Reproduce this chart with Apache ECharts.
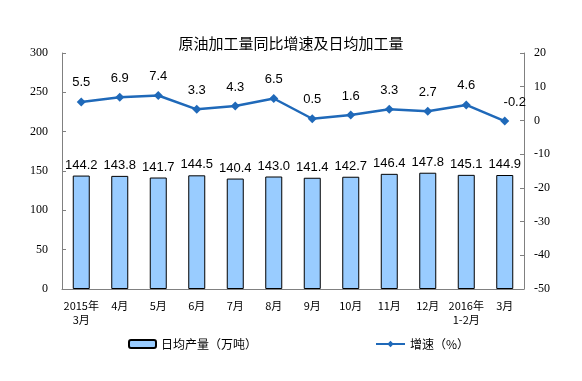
<!DOCTYPE html>
<html><head><meta charset="utf-8">
<script src="https://cdn.jsdelivr.net/npm/echarts@6/dist/echarts.min.js"></script>
<style>html,body{margin:0;padding:0;background:#fff}#c{width:582px;height:381px}</style>
</head><body><div id="c"></div>
<script>
var categories = ['2015年\n3月','4月','5月','6月','7月','8月','9月','10月','11月','12月','2016年\n1-2月','3月'];
var dailyOutput = [144.2,143.8,141.7,144.5,140.4,143.0,141.4,142.7,146.4,147.8,145.1,144.9];
var growth = [5.5,6.9,7.4,3.3,4.3,6.5,0.5,1.6,3.3,2.7,4.6,-0.2];
var leftTicks = [0,50,100,150,200,250,300];
var rightTicks = [-50,-40,-30,-20,-10,0,10,20];

var chart = echarts.init(document.getElementById('c'));
var axisFont = {fontFamily:'Liberation Serif', fontSize:12, color:'#000'};
var growthData = growth.map(function(v, i){
  var d = {value:v};
  if (i === growth.length - 1) d.label = {offset:[10, 0]};
  return d;
});
chart.setOption({
  animation:false,
  title:{text:'原油加工量同比增速及日均加工量', left:'center', top:31,
    textStyle:{fontFamily:'Noto Sans CJK SC', fontSize:15, fontWeight:'normal', color:'#000'}},
  grid:{left:62, right:58, top:53, bottom:92},
  legend:[
    {data:['日均产量（万吨）'], left:123, top:333, itemWidth:27, itemHeight:8,
     textStyle:{fontFamily:'Noto Sans CJK SC', fontSize:12, color:'#000'}},
    {data:['增速（%）'], left:370, top:333, itemWidth:29, itemHeight:8,
     textStyle:{fontFamily:'Noto Sans CJK SC', fontSize:12, color:'#000'}}
  ],
  xAxis:{type:'category', data:categories,
    axisLine:{lineStyle:{color:'#808080'}},
    axisTick:{inside:true, length:4, lineStyle:{color:'#808080'}},
    axisLabel:{fontFamily:'Noto Sans CJK SC', fontSize:11, color:'#000', margin:10, interval:0, lineHeight:14}},
  yAxis:[
    {type:'value', min:0, max:300, interval:50,
     axisLine:{show:true, lineStyle:{color:'#808080'}},
     axisTick:{show:true, inside:true, length:4, lineStyle:{color:'#808080'}},
     splitLine:{show:false},
     axisLabel:Object.assign({margin:14, formatter:function(v){return leftTicks.indexOf(v)>=0?String(v):'';}}, axisFont)},
    {type:'value', min:-50, max:20, interval:10,
     axisLine:{show:true, lineStyle:{color:'#808080'}},
     axisTick:{show:true, inside:true, length:4, lineStyle:{color:'#808080'}},
     splitLine:{show:false},
     axisLabel:Object.assign({margin:10, formatter:function(v){return rightTicks.indexOf(v)>=0?String(v):'';}}, axisFont)}
  ],
  series:[
    {name:'日均产量（万吨）', type:'bar', data:dailyOutput, barWidth:17, yAxisIndex:0,
     itemStyle:{color:'#99CCFF', borderColor:'#000', borderWidth:1},
     label:{show:true, position:'top', distance:4, fontFamily:'Liberation Sans', fontSize:13, color:'#000',
       formatter:function(p){return p.value.toFixed(1);}}},
    {name:'增速（%）', type:'line', data:growthData, yAxisIndex:1,
     symbol:'diamond', symbolSize:9,
     lineStyle:{color:'#1F69B9', width:2.5}, itemStyle:{color:'#1F69B9'},
     label:{show:true, position:'top', distance:8, fontFamily:'Liberation Sans', fontSize:13, color:'#000'}}
  ]
});
</script></body></html>
